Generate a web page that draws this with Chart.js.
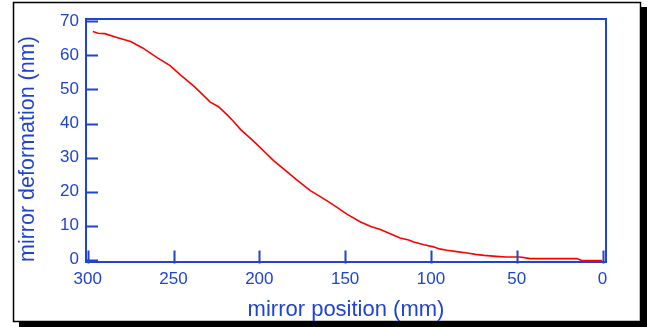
<!DOCTYPE html>
<html>
<head>
<meta charset="utf-8">
<script src="https://cdn.jsdelivr.net/npm/chart.js@4"></script>
<style>
  html, body { margin: 0; padding: 0; background: #fff; }
  #wrap { width: 647px; height: 327px; }
</style>
</head>
<body>
<div id="wrap"><canvas id="mirrorChart" width="647" height="327"></canvas></div>
<script>
// Data
const positions = [297, 294, 290, 283, 275, 268, 260, 252, 246, 238, 233, 228.6, 224, 219, 215, 211, 206, 202,
  197.6, 191.7, 185, 178, 170.3, 164, 158.7, 153, 149, 141, 135, 129.5, 122, 118, 113, 110, 104, 98.5, 95,
  90.7, 85, 79, 74, 69, 62, 56, 48, 42, 30, 15, 12, 0.3];
const deformation = [67.0, 66.5, 66.4, 65.3, 64.1, 62.2, 59.5, 57.0, 54.3, 50.9, 48.5, 46.3, 45.0, 42.7, 40.6, 38.3, 36.0, 34.2,
  32.0, 29.1, 26.3, 23.4, 20.3, 18.4, 16.7, 14.8, 13.4, 11.1, 9.8, 8.9, 7.3, 6.4, 5.8, 5.2, 4.4, 3.8, 3.2,
  2.8, 2.4, 2.0, 1.6, 1.3, 1.0, 0.8, 0.8, 0.35, 0.35, 0.35, -0.24, -0.24];
const xTicks = [0, 50, 100, 150, 200, 250, 300];
const yTicks = [0, 10, 20, 30, 40, 50, 60, 70];

const blue = '#1f43d2';

// Frame with drop shadow, plot box and inward tick marks
const framePlugin = {
  id: 'frame',
  beforeDraw(chart) {
    const c = chart.ctx;
    c.save();
    c.fillStyle = '#fff';
    c.fillRect(0, 0, chart.width, chart.height);
    c.fillStyle = '#000';
    c.fillRect(19, 7, 628, 320);
    c.fillStyle = '#fff';
    c.fillRect(13, 2, 628, 320);
    c.strokeStyle = '#000';
    c.lineWidth = 1.5;
    c.strokeRect(13.5, 2.5, 627, 319);
    c.restore();
  },
  afterDatasetsDraw(chart) {
    const c = chart.ctx;
    const a = chart.chartArea;
    const xs = chart.scales.x, ys = chart.scales.y;
    c.save();
    c.strokeStyle = blue;
    c.lineWidth = 2;
    c.strokeRect(a.left, a.top, a.right - a.left, a.bottom - a.top);
    c.beginPath();
    ys.ticks.forEach(t => {
      const y = Math.round(ys.getPixelForValue(t.value)) + 0.5;
      c.moveTo(a.left, y);
      c.lineTo(a.left + 12, y);
    });
    xs.ticks.forEach(t => {
      const x = Math.round(xs.getPixelForValue(t.value)) + 0.5;
      c.moveTo(x, a.bottom + 1.5);
      c.lineTo(x, a.bottom - 11.5);
    });
    c.stroke();
    c.restore();
  }
};

Chart.defaults.font.family = "'Liberation Sans', Arial, sans-serif";

const ctx = document.getElementById('mirrorChart').getContext('2d');
const mirrorChart = new Chart(ctx, {
  type: 'line',
  data: {
    datasets: [{
      data: positions.map((p, i) => ({ x: p, y: deformation[i] })),
      borderColor: '#ff0000',
      borderWidth: 1.6,
      pointRadius: 0,
      tension: 0,
      fill: false
    }]
  },
  options: {
    responsive: false,
    animation: false,
    devicePixelRatio: 1,
    layout: { padding: { left: 0, top: 19, right: 41, bottom: 0 } },
    plugins: {
      legend: { display: false },
      tooltip: { enabled: false }
    },
    scales: {
      x: {
        type: 'linear',
        reverse: true,
        min: -2,
        max: 301,
        afterBuildTicks: s => { s.ticks = xTicks.map(v => ({ value: v })); },
        afterFit: s => { s.height = 65; },
        grid: { display: false, drawTicks: false },
        border: { display: false },
        ticks: { color: blue, font: { size: 17 }, padding: 7, maxRotation: 0, autoSkip: false },
        title: { display: true, text: 'mirror position (mm)', color: blue, font: { size: 22 }, padding: 4 }
      },
      y: {
        min: -0.65,
        max: 70.7,
        afterBuildTicks: s => { s.ticks = yTicks.map(v => ({ value: v })); },
        afterFit: s => { s.width = 86; },
        grid: { display: false, drawTicks: false },
        border: { display: false },
        ticks: { color: blue, font: { size: 17 }, padding: 7, autoSkip: false },
        title: { display: true, text: 'mirror deformation (nm)', color: blue, font: { size: 21.5 }, padding: 15, align: 'start' }
      }
    }
  },
  plugins: [framePlugin]
});
</script>
</body>
</html>
